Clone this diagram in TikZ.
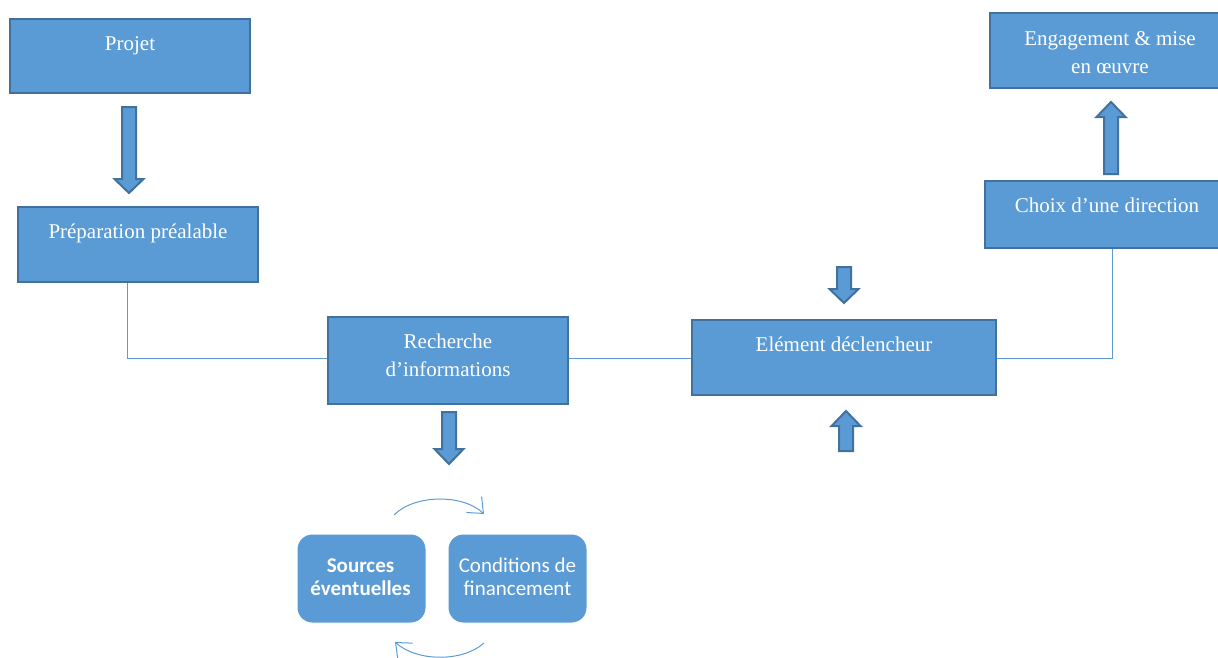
\documentclass[tikz,border=0pt]{standalone}
\usepackage{fontspec}
\setmainfont{Liberation Serif}
\newfontfamily\calibri{Carlito}
\usetikzlibrary{arrows.meta}
\definecolor{boxfill}{HTML}{5B9BD5}
\definecolor{boxline}{HTML}{41719C}
\begin{document}
\begin{tikzpicture}[x=1pt,y=-1pt,
  box/.style={draw=boxline,fill=boxfill,line width=2pt,inner sep=0pt},
  rbox/.style={draw=white,fill=boxfill,line width=1pt,rounded corners=15pt,inner sep=0pt},
  lbl/.style={text=white,font=\fontsize{21}{28}\selectfont,align=center,inner sep=0pt,anchor=base},
  slbl/.style={text=white,font=\calibri\fontsize{21}{22.5}\selectfont,align=center,inner sep=0pt,anchor=base},
  conn/.style={draw=boxfill,line width=1pt},
  cyc/.style={draw=boxfill,line width=1pt,-{Straight Barb[length=13pt,width=22pt,line width=1pt]}},
  pics/barrow/.style args={#1/#2}{code={
    \draw[draw=boxline,fill=boxfill,line width=2pt,line join=miter]
      (-7,-#1) -- (7,-#1) -- (7,-#2) -- (14.5,-#2) -- (0,0) -- (-14.5,-#2) -- (-7,-#2) -- cycle;}}
]
\useasboundingbox (0,0) rectangle (1218,657);
\clip (0,0) rectangle (1218,657);
\coordinate (midline) at (0,358);

% boxes
\node[box,minimum width=240pt,minimum height=74pt] (projet) at (130,56) {};
\node[box,minimum width=240pt,minimum height=75pt] (prep) at (138,244.5) {};
\node[box,minimum width=240pt,minimum height=87pt] (rech) at (448,360.5) {};
\node[box,minimum width=304pt,minimum height=75pt] (elem) at (844,357.5) {};
\node[box,minimum width=244pt,minimum height=67pt] (choix) at (1107,214.5) {};
\node[box,minimum width=240pt,minimum height=75pt] (engag) at (1110,50.5) {};
\node[rbox,minimum width=129pt,minimum height=89pt] (sources) at (361.5,578.5) {};
\node[rbox,minimum width=139pt,minimum height=89pt] (cond) at (517.5,578.5) {};

% connectors
\draw[conn] ([xshift=-11pt]prep.south) |- (rech.west |- midline);
\draw[conn] (rech.east |- midline) -- (elem.west |- midline);
\draw[conn] (elem.east |- midline) -| ([xshift=5pt]choix.south);

% texts (anchor=base is the baseline of the last line)
\node[lbl] (tprojet) at (130,50) {Projet};
\node[lbl] (tprep) at (138,238) {Préparation préalable};
\node[lbl] (trech) at (448,376) {Recherche\\d’informations};
\node[lbl] (telem) at (844,351) {Elément déclencheur};
\node[lbl] (tchoix) at (1107,212) {Choix d’une direction};
\node[lbl] (tengag) at (1110,73) {Engagement \& mise\\en œuvre};
\node[slbl,font=\calibri\bfseries\fontsize{21}{22.5}\selectfont] (tsources) at (360.5,595) {Sources\\éventuelles};
\node[slbl] (tcond) at (517.5,595) {Conditions de\\financement};

% block arrows
\pic at (129,193) {barrow={86/14}};
\pic at (449,464) {barrow={52/15}};
\pic at (844,303) {barrow={36/14}};
\pic[rotate=180] at (846,411) {barrow={40/15}};
\pic[rotate=180] at (1111,102) {barrow={72/15}};

% cycle arrows
\coordinate (c1s) at (394,515);
\coordinate (c1e) at (484,514);
\coordinate (c2s) at (484,643);
\coordinate (c2e) at (395,642);
\draw[cyc] (c1s) .. controls (415,494) and (463,494) .. (c1e);
\draw[cyc] (c2s) .. controls (463,662) and (417,662) .. (c2e);
\end{tikzpicture}
\end{document}
